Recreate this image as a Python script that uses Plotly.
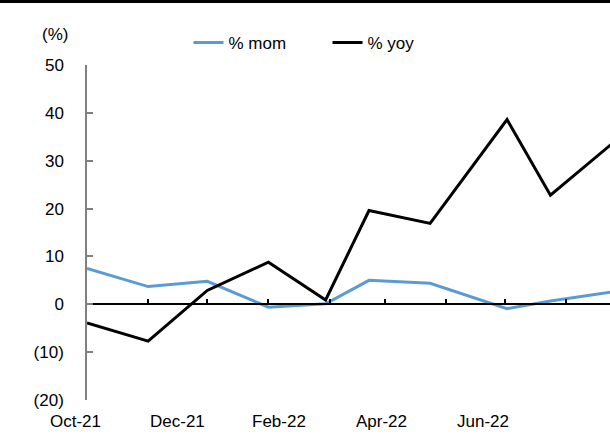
import plotly.graph_objects as go
import pandas as pd

# ---- data ----
dates = ["2021-10-01", "2021-11-01", "2021-12-01", "2022-01-01", "2022-01-30",
         "2022-02-21", "2022-03-24", "2022-05-02", "2022-05-24", "2022-07-01"]
mom = [7.5, 3.7, 4.8, -0.6, 0.1, 5.0, 4.4, -0.9, 0.7, 3.0]
yoy = [-3.9, -7.7, 2.9, 8.8, 0.9, 19.6, 16.9, 38.6, 22.8, 35.9]
x_labels = ["Oct-21", "Dec-21", "Feb-22", "Apr-22", "Jun-22"]
y_ticks = [-20, -10, 0, 10, 20, 30, 40, 50]
y_ticktext = [f"({abs(v)})" if v < 0 else str(v) for v in y_ticks]
month_ticks = pd.date_range("2021-10-01", "2022-07-01", freq="MS")

FONT = "Liberation Sans, Arial, sans-serif"
BLUE = "#5B9BD5"
L, R, T, B, W, H = 87, 0, 65, 48, 610, 448
PW, PH = W - L - R, H - T - B

fig = go.Figure()
fig.add_trace(go.Scatter(x=dates, y=mom, mode="lines", name="% mom",
                         line=dict(color=BLUE, width=3)))
fig.add_trace(go.Scatter(x=dates, y=yoy, mode="lines", name="% yoy",
                         line=dict(color="black", width=3)))

ymin, ymax = -20, 50
fig.update_layout(
    width=W, height=H,
    margin=dict(l=L, r=R, t=T, b=B, autoexpand=False),
    paper_bgcolor="white", plot_bgcolor="white",
    font=dict(family=FONT, size=17, color="black"),
    showlegend=True,
    legend=dict(orientation="h", x=(188.5 - L) / PW, y=1 + (T - 43) / PH,
                xanchor="left", yanchor="middle",
                entrywidth=94, entrywidthmode="pixels",
                font=dict(size=17), bgcolor="rgba(0,0,0,0)"),
    xaxis=dict(type="date", range=["2021-10-01", "2022-06-23 05:00"],
               anchor="free", position=(0 - ymin) / (ymax - ymin),
               showline=True, linecolor="black", linewidth=1.5,
               ticks="inside", ticklen=5, tickcolor="black", tickwidth=1.5,
               tickvals=month_ticks, showticklabels=False, showgrid=False,
               zeroline=False),
    yaxis=dict(range=[ymin, ymax], tickvals=y_ticks, ticktext=y_ticktext,
               showline=True, linecolor="#808080", linewidth=1.5,
               ticks="inside", ticklen=6, tickcolor="#808080", tickwidth=1.5,
               ticklabelstandoff=18, showgrid=False, zeroline=False),
)

annotations = [dict(text="(%)", xref="paper", yref="paper",
                    x=(55 - L) / PW, y=1 + (T - 34) / PH,
                    xanchor="center", yanchor="middle", showarrow=False,
                    font=dict(size=17))]
for i, lab in enumerate(x_labels):
    annotations.append(dict(text=lab, xref="paper", yref="paper",
                            x=(75 + 51 * 2 * i - L) / PW,
                            y=-(421 - (H - B)) / PH, xanchor="center",
                            yanchor="middle", showarrow=False,
                            font=dict(size=17)))
fig.update_layout(annotations=annotations)

fig.add_shape(type="line", xref="paper", yref="paper",
              x0=-L / PW, x1=1.0, y0=1 + (T - 1.4) / PH, y1=1 + (T - 1.4) / PH,
              line=dict(color="black", width=3), layer="above")

fig.write_html("out.html", config={"displayModeBar": False},
               post_script="document.body.style.margin='0';document.body.style.padding='0';document.body.style.overflow='hidden';")
